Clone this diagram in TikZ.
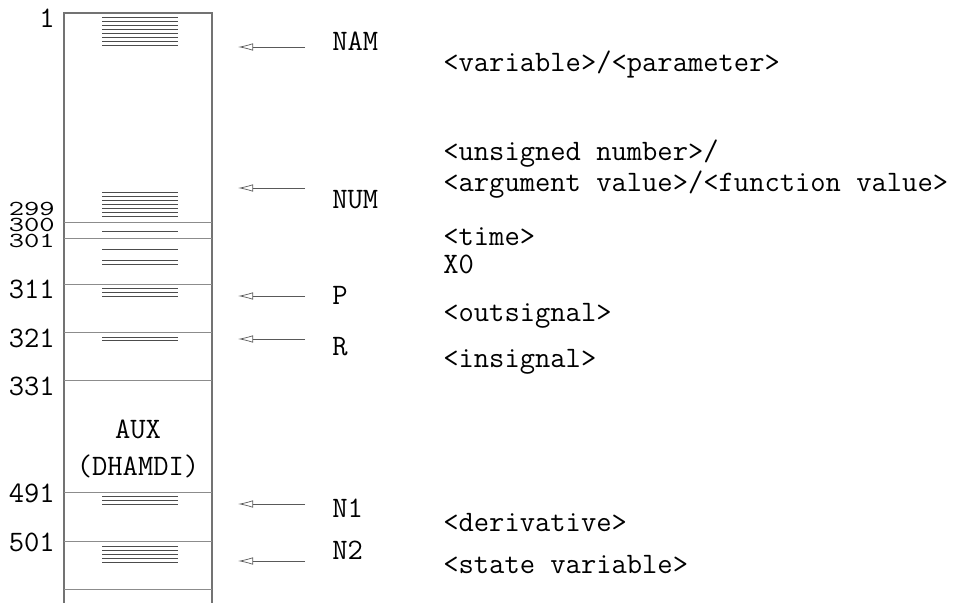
\documentclass[tikz,border=0pt]{standalone}
\usepackage{fontspec}
\usetikzlibrary{arrows.meta,positioning}

\begin{document}
\begin{tikzpicture}[
  x=0.2mm, y=-0.2mm,
  font=\fontsize{16.9}{20}\selectfont\ttfamily,
  wall/.style={black!55, line width=0.6pt},
  row/.style={black!45, line width=0.5pt},
  hatch/.style={black!70, line width=0.55pt},
  addr/.style={anchor=east, inner sep=0pt, text height=.62em, text depth=0pt},
  tight/.style={text height=.45em},
  lbl/.style={anchor=west, inner sep=0pt, text height=.62em, text depth=0pt},
  desc/.style={anchor=west, inner sep=0pt, text height=.62em, text depth=0pt},
  arr/.style={-{Latex[open, length=3mm, width=1.5mm]}, black!65, thin}
]
\useasboundingbox (0,0) rectangle (976,603);

% ── The store, open at the bottom ─────────────────────────────────────────
\draw[wall] (64,603) -- (64,13) -- (212,13) -- (212,603);
\foreach \y in {222.7,238.7,284.5,332,380,492,541.5,589}
  \draw[row] (64,\y) -- (212,\y);

% ── Occupied words ────────────────────────────────────────────────────────
\foreach \y in {17,21,...,45}   \draw[hatch] (102,\y) -- (178,\y);
\foreach \y in {192,196,...,216} \draw[hatch] (102,\y) -- (178,\y);
\foreach \y in {231,249,260,264,288,292,296,337,340,496,500,504}
  \draw[hatch] (102,\y) -- (178,\y);
\foreach \y in {546,550,...,562} \draw[hatch] (102,\y) -- (178,\y);

\node[inner sep=0pt] (aux) at (138,429) {AUX};
\node[inner sep=0pt] (dhamdi) at (138,466) {(DHAMDI)};

% ── Addresses ─────────────────────────────────────────────────────────────
\node[addr] (a1)   at (55,22)  {1};
\node[addr, tight] (a299) at (55,212) {\scalebox{1}[.72]{299}};
\node[addr, tight] (a300) at (55,228) {\scalebox{1}[.72]{300}};
\node[addr, tight] (a301) at (55,244) {\scalebox{1}[.72]{301}};
\node[addr] (a311) at (55,293) {311};
\node[addr] (a321) at (55,342) {321};
\node[addr] (a331) at (55,390) {331};
\node[addr] (a491) at (55,497) {491};
\node[addr] (a501) at (55,546) {501};

% ── Pointers into the store ───────────────────────────────────────────────
\node[lbl] (nam) at (332,45)  {NAM};
\node[lbl] (num) at (332,203) {NUM};
\node[lbl] (p)   at (332,299) {P};
\node[lbl] (r)   at (332,350) {R};
\node[lbl] (n1)  at (332,512) {N1};
\node[lbl] (n2)  at (332,554) {N2};

\foreach \n/\dy in {nam/2, num/-15, p/-3, r/-11, n1/-8, n2/7}
  \draw[arr] (\n.west) ++(-27,\dy) -- ++(-67,0);

% ── What the words hold ───────────────────────────────────────────────────
\node[desc] (dnam)  at (443,66)  {<variable>/<parameter>};
\node[desc] (dnum)  at (443,155) {<unsigned number>/};
\node[desc] (dnum2) at (443,186) {<argument value>/<function value>};
\node[desc] (dtim)  at (443,240) {<time>};
\node[desc] (dx0)   at (443,268) {X0};
\node[desc] (dp)    at (443,316) {<outsignal>};
\node[desc] (dr)    at (443,362) {<insignal>};
\node[desc] (dn1)   at (443,526) {<derivative>};
\node[desc] (dn2)   at (443,568) {<state variable>};

\end{tikzpicture}
\end{document}
